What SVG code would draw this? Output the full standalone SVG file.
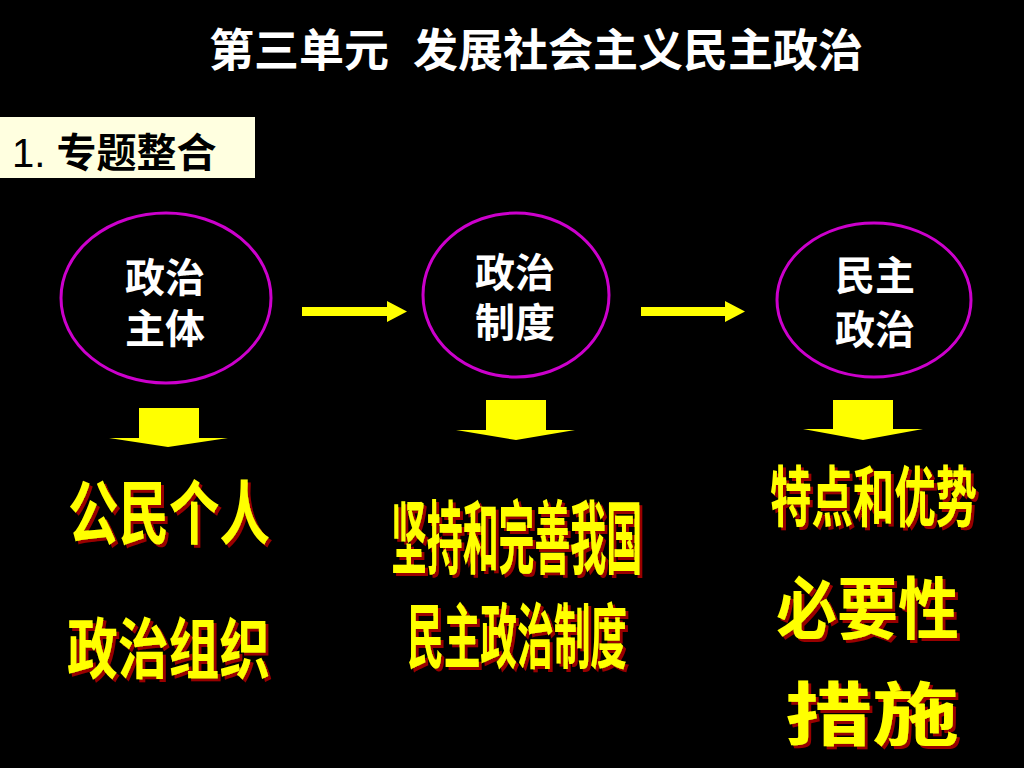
<svg xmlns="http://www.w3.org/2000/svg" width="1024" height="768" viewBox="0 0 1024 768">
<style>
.cjk{font-family:'Liberation Sans','Noto Sans CJK SC',sans-serif;font-weight:bold}
.title{fill:#FFFFFF;font-size:45px}
.node-text{fill:#FFFFFF;font-size:40px;text-anchor:middle}
.ell{fill:none;stroke:#CC00CC;stroke-width:3}
.arrow{fill:#FFFF00}
.big{fill:#FFFF00}
.shadowed{filter:url(#shadow)}
</style>
<defs>
<filter id="shadow" x="-5%" y="-5%" width="115%" height="115%">
<feOffset in="SourceAlpha" dx="3" dy="3" result="off"/>
<feFlood flood-color="#990000"/>
<feComposite in2="off" operator="in" result="sh"/>
<feMerge><feMergeNode in="sh"/><feMergeNode in="SourceGraphic"/></feMerge>
</filter>
</defs>
<rect x="0" y="0" width="1024" height="768" fill="#000000"/>
<text class="cjk title" y="67"><tspan x="209">第三单元</tspan><tspan x="413">发展社会主义民主政治</tspan></text>
<g id="label">
<rect x="0" y="117" width="255" height="61" fill="#FFFFE0"/>
<text class="cjk" x="12" y="167" font-size="40" fill="#000000"><tspan font-weight="normal">1. </tspan>专题整合</text>
</g>
<g id="node-subject">
<ellipse class="ell" cx="166" cy="298" rx="105" ry="85"/>
<text class="cjk node-text" x="165" y="292">政治</text>
<text class="cjk node-text" x="165" y="343">主体</text>
</g>
<g id="node-system">
<ellipse class="ell" cx="516" cy="295" rx="93" ry="82"/>
<text class="cjk node-text" x="515" y="287">政治</text>
<text class="cjk node-text" x="515" y="337">制度</text>
</g>
<g id="node-democracy">
<ellipse class="ell" cx="874" cy="300" rx="97" ry="77"/>
<text class="cjk node-text" x="875" y="290">民主</text>
<text class="cjk node-text" x="875" y="344">政治</text>
</g>
<g id="connectors">
<polygon class="arrow" points="302,307 387,307 387,301 407,311.5 387,322 387,316 302,316"/>
<polygon class="arrow" points="641,307 725,307 725,301 745,311.5 725,322 725,316 641,316"/>
<polygon class="arrow" points="139,408 199,408 199,438 228,438 168,447 109,438 139,438"/>
<polygon class="arrow" points="486,400 546,400 546,430 575,430 516,440 456,430 486,430"/>
<polygon class="arrow" points="833,400 893,400 893,429 923,429 863,440 803,429 833,429"/>
</g>
<g id="col1-text" class="shadowed">
<text class="cjk big" transform="translate(68,539) scale(1,1.386)" font-size="50.5">公民个人</text>
<text class="cjk big" transform="translate(67,673) scale(1,1.30)" font-size="50.75">政治组织</text>
</g>
<g id="col2-text" class="shadowed">
<text class="cjk big" transform="translate(391,567) scale(1,2.231)" font-size="35.86">坚持和完善我国</text>
<text class="cjk big" transform="translate(407,662) scale(1,1.936)" font-size="36.67">民主政治制度</text>
</g>
<g id="col3-text" class="shadowed">
<text class="cjk big" transform="translate(770,521) scale(1,1.594)" font-size="41.4">特点和优势</text>
<text class="cjk big" transform="translate(776,634) scale(1,1.115)" font-size="61">必要性</text>
<text class="cjk big" transform="translate(785,740) scale(1,0.793)" font-size="87">措施</text>
</g>
</svg>
